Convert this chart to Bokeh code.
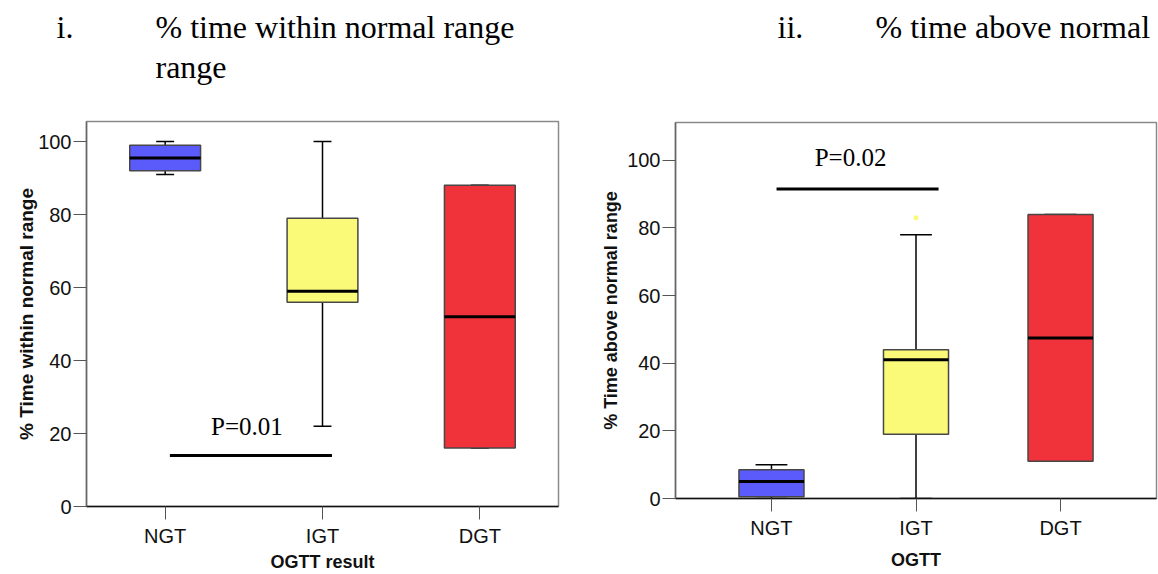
from bokeh.plotting import figure
from bokeh.layouts import column, row
from bokeh.models import Range1d, FixedTicker, Spacer
from bokeh.core.properties import value
from bokeh.embed import file_html
from bokeh.resources import INLINE

# ---------------- data ----------------
groups = ["NGT", "IGT", "DGT"]
box_colors = ["#5b5bfb", "#fafa78", "#f0323a"]
y_ticks = [0, 20, 40, 60, 80, 100]

# panel i: % time within normal range
within_lower = [91, 22, 16]
within_q1 = [92, 56, 16]
within_median = [95.5, 59, 52]
within_q3 = [99, 79, 88]
within_upper = [100, 100, 88]
within_p_text = "P=0.01"
within_bracket_groups = ["NGT", "IGT"]
within_bracket_y = 14

# panel ii: % time above normal range
above_lower = [0, 0, 11]
above_q1 = [0.5, 19, 11]
above_median = [5, 41, 47.5]
above_q3 = [8.5, 44, 84]
above_upper = [10, 78, 84]
above_outlier_groups = ["IGT"]
above_outlier_values = [83]
above_p_text = "P=0.02"
above_bracket_groups = ["NGT", "IGT"]
above_bracket_y = 91.5

SANS = "Liberation Sans"
SERIF = "Liberation Serif"


def make_panel(width, height, borders, xpad, ymax, lower, q1, med, q3, upper,
               ylabel, xlabel, cap_half, ylabel_size, label_standoffs,
               bracket_groups, bracket_y, bracket_ext, p_text, p_pos,
               outlier_groups=None, outlier_values=None):
    idx = list(range(len(groups)))
    p = figure(width=width, height=height, output_backend="svg", toolbar_location=None,
               x_range=Range1d(-xpad, len(groups) - 1 + xpad), y_range=Range1d(0, ymax),
               min_border_left=borders[0], min_border_right=borders[1],
               min_border_top=borders[2], min_border_bottom=borders[3])
    p.grid.visible = False
    p.outline_line_color = "#8a8a8a"
    p.outline_line_width = 1.5
    p.background_fill_color = "white"
    p.border_fill_color = "white"

    # whiskers
    p.segment(x0=idx, y0=q3, x1=idx, y1=upper, line_color="black", line_width=1.5)
    p.segment(x0=idx, y0=lower, x1=idx, y1=q1, line_color="black", line_width=1.5)
    p.segment(x0=[i - cap_half for i in idx], y0=upper, x1=[i + cap_half for i in idx], y1=upper,
              line_color="black", line_width=1.5)
    p.segment(x0=[i - cap_half for i in idx], y0=lower, x1=[i + cap_half for i in idx], y1=lower,
              line_color="black", line_width=1.5)
    # boxes
    p.vbar(x=idx, width=0.45, bottom=q1, top=q3, fill_color=box_colors,
           line_color="#474747", line_width=1.5)
    # medians
    p.segment(x0=[i - 0.225 for i in idx], y0=med, x1=[i + 0.225 for i in idx], y1=med,
              line_color="black", line_width=3)
    if outlier_groups:
        p.scatter(x=[groups.index(g) for g in outlier_groups], y=outlier_values,
                  size=5, fill_color="#fafa78", line_color=None)

    # significance bracket
    b0 = groups.index(bracket_groups[0]) + bracket_ext[0]
    b1 = groups.index(bracket_groups[1]) + bracket_ext[1]
    p.segment(x0=[b0], y0=[bracket_y], x1=[b1], y1=[bracket_y], line_color="black", line_width=3)
    p.text(x=[p_pos[0]], y=[p_pos[1]], text=[p_text], text_font=value(SERIF),
           text_font_size="25px", text_align="center", text_baseline="alphabetic",
           text_color="black")

    # axes
    p.xaxis.ticker = FixedTicker(ticks=idx)
    p.xaxis.major_label_overrides = {i: g for i, g in zip(idx, groups)}
    p.yaxis.ticker = FixedTicker(ticks=y_ticks)
    for ax in (p.xaxis[0], p.yaxis[0]):
        ax.major_label_text_font = SANS
        ax.major_label_text_font_size = "20px"
        ax.major_label_text_color = "#111111"
        ax.axis_label_text_font = SANS
        ax.axis_label_text_font_style = "bold"
        ax.axis_label_text_color = "#111111"
        ax.major_tick_in = 0
        ax.major_tick_out = 13
        ax.major_tick_line_color = "#555555"
        ax.minor_tick_line_color = None
    p.xaxis.axis_line_color = "#111111"
    p.xaxis.axis_line_width = 1.5
    p.yaxis.axis_line_color = "#666666"
    p.yaxis.axis_line_width = 1.5
    p.xaxis.axis_label = xlabel
    p.yaxis.axis_label = ylabel
    p.xaxis.axis_label_text_font_size = "18px"
    p.yaxis.axis_label_text_font_size = ylabel_size
    p.xaxis.major_label_standoff = 5
    p.yaxis.major_label_standoff = 2
    p.yaxis.axis_label_standoff = label_standoffs[0]
    p.xaxis.axis_label_standoff = label_standoffs[1]
    return p


left = make_panel(590, 474, (86, 32, 21, 67), 0.5, 105.5,
                  within_lower, within_q1, within_median, within_q3, within_upper,
                  "% Time within normal range", "OGTT result", 0.057, "19px", (-2, 2),
                  within_bracket_groups, within_bracket_y, (0.03, 0.06),
                  within_p_text, (0.52, 21.9))

right = make_panel(568, 473, (85, 2, 22, 75), 0.664, 111.2,
                   above_lower, above_q1, above_median, above_q3, above_upper,
                   "% Time above normal range", "OGTT", 0.11, "18px", (3, 8),
                   above_bracket_groups, above_bracket_y, (0.035, 1.156 - 1),
                   above_p_text, (0.547, 100.9),
                   outlier_groups=above_outlier_groups, outlier_values=above_outlier_values)

# ---------------- titles ----------------
title_x = [56, 155, 155, 777, 875]
title_y = [26, 26, 66, 26, 26]
title_text = ["i.", "% time within normal range", "range", "ii.", "% time above normal"]

top = figure(width=1158, height=100, output_backend="svg", toolbar_location=None,
             x_range=Range1d(0, 1158), y_range=Range1d(100, 0),
             min_border=0)
top.axis.visible = False
top.grid.visible = False
top.outline_line_color = None
top.text(x=title_x, y=title_y, text=title_text, text_font=value(SERIF),
         text_font_size="32px", text_align="left", text_baseline="alphabetic",
         text_color="black")

layout = column(top, row(left, column(right, Spacer(width=568, height=1))))
open("out.html", "w").write(file_html(layout, INLINE))
